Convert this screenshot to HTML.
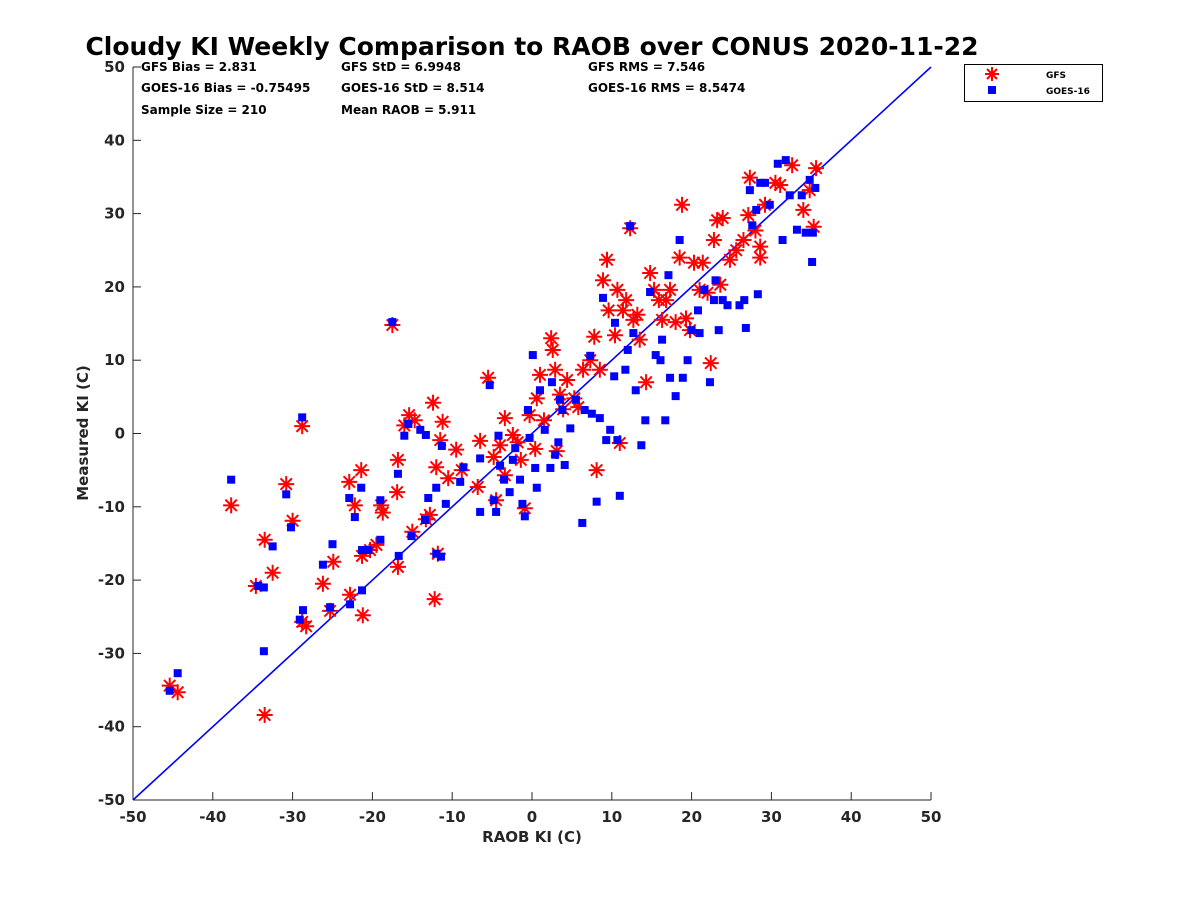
<!DOCTYPE html>
<html><head><meta charset="utf-8"><style>
body{margin:0;background:#fff;}
svg{display:block;font-family:"DejaVu Sans","Liberation Sans",sans-serif;}
</style></head><body>
<svg id="chart" width="1200" height="900">
<text x="532" y="55" text-anchor="middle" font-size="25" font-weight="bold">Cloudy KI Weekly Comparison to RAOB over CONUS 2020-11-22</text>
<g font-size="12" font-weight="bold">
<text x="141" y="71">GFS Bias = 2.831</text>
<text x="141" y="92">GOES-16 Bias = -0.75495</text>
<text x="141" y="114">Sample Size = 210</text>
<text x="341" y="71">GFS StD = 6.9948</text>
<text x="341" y="92">GOES-16 StD = 8.514</text>
<text x="341" y="114">Mean RAOB = 5.911</text>
<text x="588" y="71">GFS RMS = 7.546</text>
<text x="588" y="92">GOES-16 RMS = 8.5474</text>
</g>
<g id="axes"></g>
<g id="marks"></g>
<g>
<rect x="964.5" y="64.5" width="138" height="37" fill="#fff" stroke="#000" stroke-width="1"/>
<g stroke="#f00" stroke-width="2">
<line x1="992" y1="67" x2="992" y2="81"/><line x1="985" y1="74" x2="999" y2="74"/><line x1="987" y1="69" x2="997" y2="79"/><line x1="987" y1="79" x2="997" y2="69"/></g>
<text x="1046" y="78" font-size="9" font-weight="bold">GFS</text>
<rect x="988" y="86" width="8" height="8" fill="#00f"/>
<text x="1046" y="94" font-size="9" font-weight="bold">GOES-16</text>
</g>
</svg>
<script>
const ticks=[-50,-40,-30,-20,-10,0,10,20,30,40,50];
const gfsRaob=[-45.4,-44.4,-37.7,-34.6,-33.5,-33.5,-32.5,-30.8,-30,-28.8,-28.8,-28.3,-26.2,-25.3,-24.9,-22.9,-22.8,-22.2,-21.4,-21.3,-21.2,-20.3,-19.5,-18.9,-18.7,-17.5,-16.9,-16.8,-16.8,-16,-15.4,-15,-14.7,-13.3,-12.8,-12.4,-12.2,-12,-11.8,-11.5,-11.2,-10.5,-9.5,-8.8,-6.8,-6.5,-5.5,-4.8,-4.5,-4,-3.4,-3.4,-2.4,-1.8,-1.4,-0.9,-0.3,0.4,0.6,1,1.5,2.4,2.6,2.9,3.1,3.5,3.9,4.4,5.3,5.8,6.4,7.3,7.8,8.1,8.5,8.9,9.4,9.6,10.4,10.7,11,11.4,11.8,12.3,12.7,13.2,13.5,14.3,14.8,15.3,15.9,16.3,16.8,17.3,18,18.5,18.8,19.3,19.8,20.3,21,21.4,22,22.4,22.8,23.2,23.6,23.9,24.8,25.6,26.5,27.1,27.3,28,28.6,29.2,30.5,31.1,32.6,34,34.8,35.3,35.6,28.6];
const gfsMeas=[-34.4,-35.3,-9.8,-20.8,-14.5,-38.4,-19,-6.9,-11.9,1,-25.7,-26.3,-20.5,-24.2,-17.5,-6.6,-22,-9.8,-5,-16.7,-24.8,-15.9,-15.2,-9.8,-10.8,14.8,-8,-3.6,-18.2,1.1,2.5,-13.4,1.8,-11.7,-11.1,4.2,-22.6,-4.6,-16.4,-0.9,1.6,-6.1,-2.2,-5,-7.3,-1,7.6,-3.2,-9.1,-1.6,-5.7,2.1,-0.2,-1.2,-3.6,-10.2,2.5,-2.1,4.8,8,1.8,13,11.4,8.7,-2.4,5.3,3.3,7.3,4.8,3.6,8.7,10,13.2,-5,8.7,20.9,23.7,16.8,13.4,19.6,-1.3,16.8,18.2,28,15.5,16.2,12.8,7,21.9,19.6,18.2,15.5,18.2,19.6,15.2,24,31.2,15.7,14.1,23.3,19.6,23.3,19.2,9.6,26.4,29.1,20.3,29.4,23.7,25,26.4,29.8,34.9,27.7,24,31.2,34.2,33.9,36.6,30.5,33.2,28.2,36.2,25.5];
const goesRaob=[-45.4,-44.4,-37.7,-34.3,-33.6,-33.6,-32.5,-30.8,-30.2,-28.8,-28.7,-29.1,-26.2,-25.3,-25,-22.9,-22.8,-22.2,-21.4,-21.3,-21.3,-20.5,-19,-19,-17.5,-16.8,-16.7,-16,-15.5,-15.1,-14,-13.4,-13.3,-13,-12,-12,-11.4,-11.3,-10.8,-9,-8.6,-6.5,-6.5,-5.3,-4.8,-4.5,-4.2,-4,-3.5,-2.8,-2.4,-2.1,-1.5,-1.2,-0.9,-0.5,-0.3,0.1,0.4,0.6,1,1.6,2.3,2.5,2.9,3.3,3.5,3.8,4.1,4.8,5.5,6.3,6.6,7.3,7.5,8.1,8.5,8.9,9.3,9.8,10.3,10.4,10.7,11,11.7,12,12.3,12.7,13,13.7,14.2,14.8,15.5,16.1,16.3,16.7,17.1,17.3,18,18.5,18.9,19.5,20,20.8,21,21.6,22.3,22.8,23,23.4,23.9,24.5,26,26.6,26.8,27.3,27.6,28.1,28.3,28.6,29.2,29.8,30.8,31.4,31.8,32.3,33.2,33.8,34.3,34.8,35.1,35.5,35.2];
const goesMeas=[-35.1,-32.7,-6.3,-20.8,-21,-29.7,-15.4,-8.3,-12.8,2.2,-24.1,-25.4,-17.9,-23.7,-15.1,-8.8,-23.3,-11.4,-7.4,-15.9,-21.4,-15.9,-14.5,-9.1,15.2,-5.5,-16.7,-0.3,1.3,-14,0.5,-11.8,-0.2,-8.8,-16.4,-7.4,-16.8,-1.7,-9.6,-6.6,-4.6,-10.7,-3.4,6.6,-9.1,-10.7,-0.3,-4.4,-6.3,-8,-3.6,-2,-6.3,-9.6,-11.3,3.2,-0.6,10.7,-4.7,-7.4,5.9,0.5,-4.7,7,-2.9,-1.2,4.6,3.2,-4.3,0.7,4.6,-12.2,3.2,10.6,2.7,-9.3,2.1,18.5,-0.9,0.5,7.8,15.1,-0.9,-8.5,8.7,11.4,28.3,13.7,5.9,-1.6,1.8,19.3,10.7,10,12.8,1.8,21.6,7.6,5.1,26.4,7.6,10,14.1,16.8,13.7,19.6,7,18.2,20.9,14.1,18.2,17.5,17.5,18.2,14.4,33.2,28.4,30.5,19,34.2,34.2,31.2,36.8,26.4,37.3,32.5,27.8,32.5,27.4,34.6,23.4,33.5,27.4];

const X0=133,X1=931,Y0=800,Y1=67;
function sx(v){return X0+(v+50)/100*(X1-X0);}
function sy(v){return Y0-(v+50)/100*(Y0-Y1);}
const NS='http://www.w3.org/2000/svg';
function mk(tag,attrs,parent){const e=document.createElementNS(NS,tag);for(const k in attrs)e.setAttribute(k,attrs[k]);parent.appendChild(e);return e;}
const axes=document.getElementById('axes');
const marks=document.getElementById('marks');
const xa=mk('line',{x1:X0,y1:Y0,x2:X1,y2:Y0,stroke:'#262626','stroke-width':1},axes);


const ya=mk('line',{x1:X0,y1:Y0,x2:X0,y2:Y1,stroke:'#262626','stroke-width':1},axes);


ticks.forEach(t=>{
  mk('line',{x1:sx(t),y1:Y0,x2:sx(t),y2:Y0-8,stroke:'#262626'},axes);
  const tx=mk('text',{x:sx(t),y:Y0+22,'text-anchor':'middle','font-size':15,'font-weight':'bold',fill:'#262626'},axes);
  tx.textContent=t;
  
  
  mk('line',{x1:X0,y1:sy(t),x2:X0+8,y2:sy(t),stroke:'#262626'},axes);
  const ty=mk('text',{x:X0-8,y:sy(t)+5,'text-anchor':'end','font-size':15,'font-weight':'bold',fill:'#262626'},axes);
  ty.textContent=t;
  
  
});
const xt=mk('text',{x:532,y:842,'text-anchor':'middle','font-size':15,'font-weight':'bold',fill:'#262626'},axes);
xt.textContent='RAOB KI (C)';


const yt=mk('text',{x:88,y:433,'text-anchor':'middle','font-size':15,'font-weight':'bold',fill:'#262626',transform:'rotate(-90 88 433)'},axes);
yt.textContent='Measured KI (C)';


const ol=mk('line',{x1:sx(-50),y1:sy(-50),x2:sx(50),y2:sy(50),stroke:'#00f','stroke-width':1.6},marks);


gfsRaob.forEach((r,i)=>{
  const cx=sx(r),cy=sy(gfsMeas[i]),s=8,d=5.7;
  const g=mk('g',{stroke:'#f00','stroke-width':2},marks);
  
  
  mk('line',{x1:cx,y1:cy-s,x2:cx,y2:cy+s},g);
  mk('line',{x1:cx-s,y1:cy,x2:cx+s,y2:cy},g);
  mk('line',{x1:cx-d,y1:cy-d,x2:cx+d,y2:cy+d},g);
  mk('line',{x1:cx-d,y1:cy+d,x2:cx+d,y2:cy-d},g);
});
goesRaob.forEach((r,i)=>{
  const q=mk('rect',{x:sx(r)-4,y:sy(goesMeas[i])-4,width:8,height:8,fill:'#00f'},marks);
  
  
});
</script>
</body></html>
